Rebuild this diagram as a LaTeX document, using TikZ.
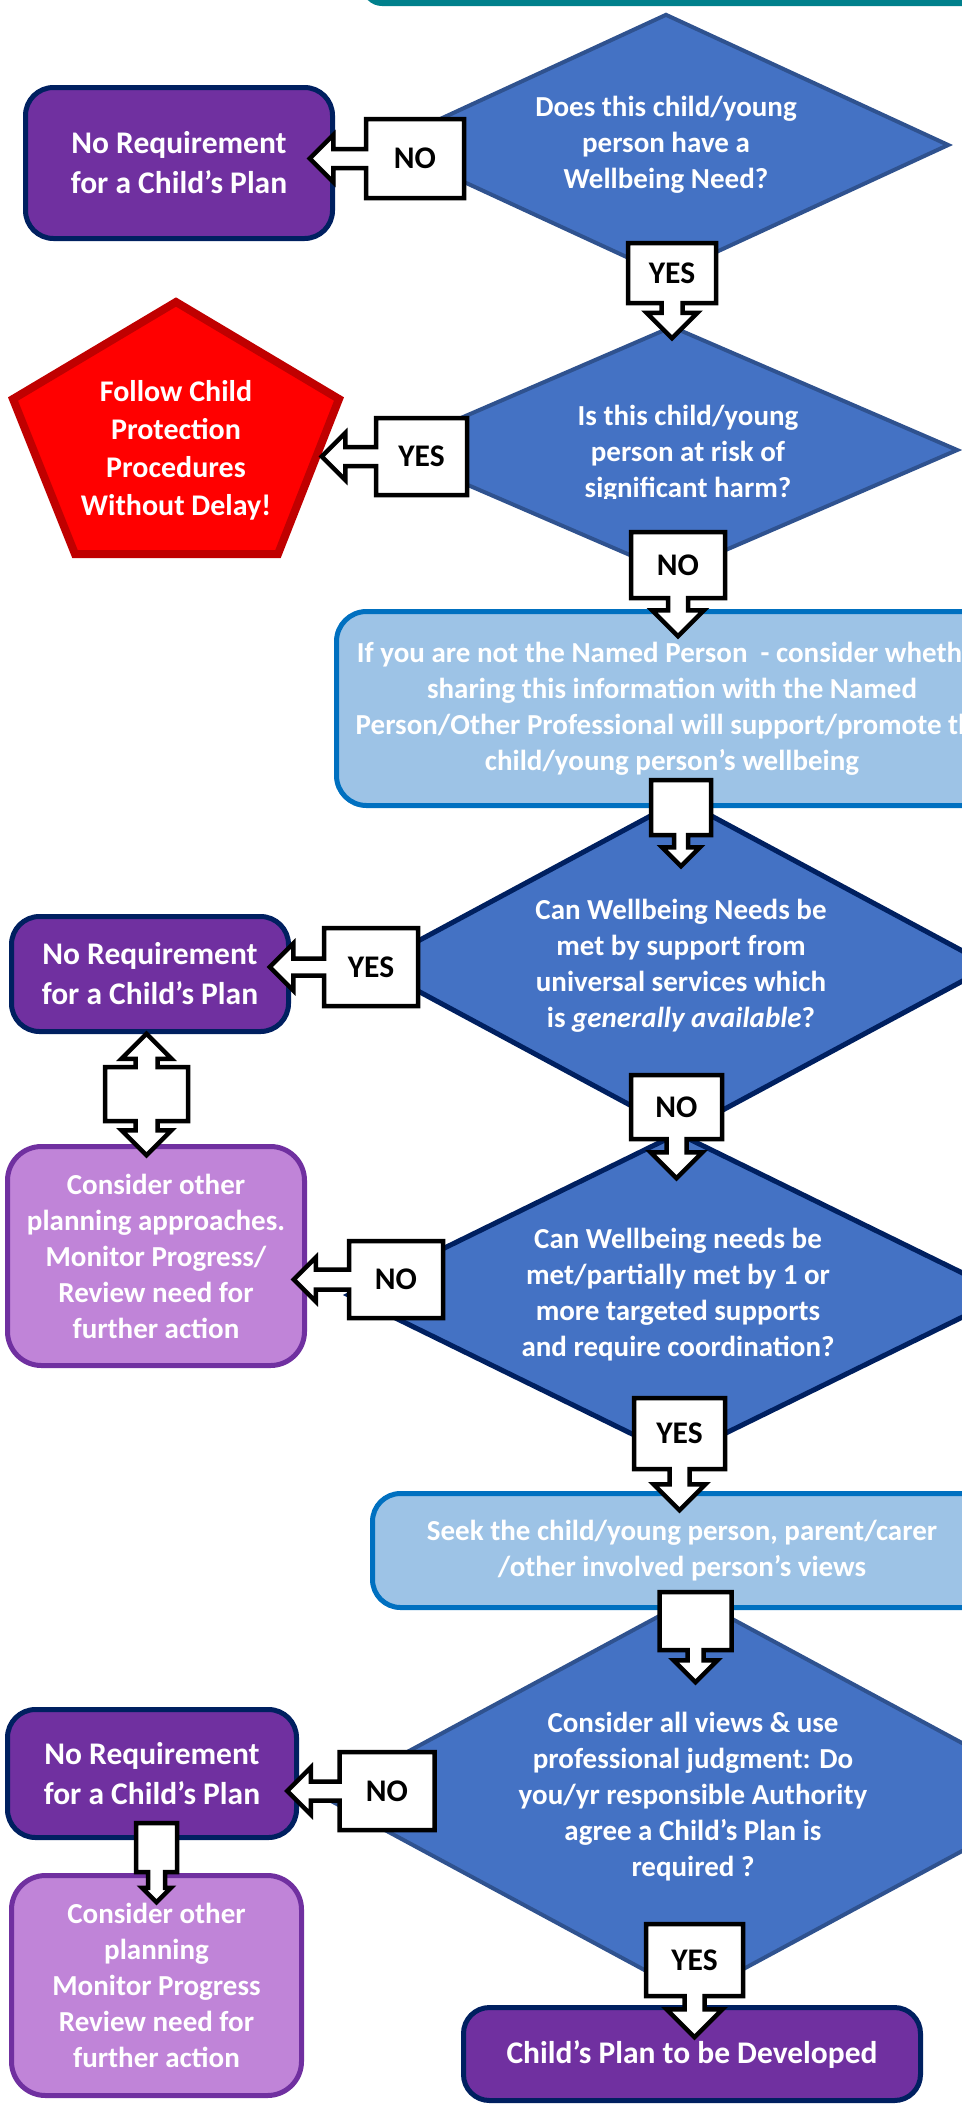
\documentclass[tikz,border=0pt]{standalone}
\usepackage{fontspec}
\setmainfont{Carlito}
\usetikzlibrary{shapes.geometric,shapes.arrows}

\definecolor{qblue}{RGB}{68,114,196}
\definecolor{qedge}{RGB}{47,82,143}
\definecolor{navy}{RGB}{0,32,96}
\definecolor{plum}{RGB}{112,48,160}
\definecolor{lilac}{RGB}{192,132,216}
\definecolor{sky}{RGB}{157,195,230}
\definecolor{skyedge}{RGB}{0,112,192}
\definecolor{stopred}{RGB}{255,0,0}
\definecolor{stopedge}{RGB}{192,0,0}
\definecolor{tealbar}{RGB}{0,128,140}

\tikzset{
  qtext/.style={text=white, align=center, font=\fontsize{14.5}{18}\selectfont\bfseries},
  question/.style={diamond, qtext, fill=qblue, draw=qedge, line width=2pt, inner sep=0pt},
  darkq/.style={question, draw=navy, line width=2.5pt},
  noplan/.style={rectangle, rounded corners=14pt, fill=plum, draw=navy, line width=2.5pt,
    text=white, align=center, font=\fontsize{15.75}{20}\selectfont\bfseries},
  lilacbox/.style={rectangle, rounded corners=17pt, fill=lilac, draw=plum, line width=2.5pt, qtext},
  skybox/.style={rectangle, rounded corners=15pt, fill=sky, draw=skyedge, line width=2.5pt, qtext},
  answer/.style={arrow box, fill=white, draw=black, line width=2.25pt, inner sep=0pt,
    arrow box tip angle=90, font=\fontsize{15.75}{18}\selectfont\bfseries},
}

\begin{document}
\begin{tikzpicture}[x=0.5pt, y=-0.5pt]
  \useasboundingbox (0,0) rectangle (962,2105);
  \clip (0,0) rectangle (962,2105);
  % bordo del riquadro sopra
  \fill[tealbar, rounded corners=10pt] (362,-60) rectangle (1020,6);

  % domande
  \node[question, aspect=2.16, minimum width=283pt, minimum height=131pt] (need) at (666,145)
    {Does this child/young\\person have a\\Wellbeing Need?};
  \node[question, aspect=2.3, minimum width=286pt, minimum height=124pt] (risk) at (672,450) {};
  \begin{scope}
    \clip (380,330) rectangle (962,498);
    \node[qtext] (risktext) at (688,454) {Is this child/young\\person at risk of\\significant harm?};
  \end{scope}
  \node[darkq, aspect=1.85, minimum width=310.5pt, minimum height=167.5pt] (universal) at (681,966)
    {Can Wellbeing Needs be\\met by support from\\universal services which\\is \textit{generally available}?};
  \node[darkq, aspect=2.03, minimum width=330.5pt, minimum height=162.5pt] (targeted) at (678,1295)
    {Can Wellbeing needs be\\met/partially met by 1 or\\more targeted supports\\and require coordination?};
  \node[question, aspect=1.85, minimum width=370pt, minimum height=200pt] (judge) at (693,1797)
    {Consider all views \& use\\professional judgment: Do\\you/yr responsible Authority\\agree a Child’s Plan is\\required ?};

  % esiti
  \filldraw[fill=stopred, draw=stopedge, line width=4pt, line join=miter]
    (176,302) -- (339,399) -- (278,554) -- (75,554) -- (13,399) -- cycle;
  \node[text=white, align=center, font=\fontsize{15}{19}\selectfont\bfseries] (protect) at (176,450)
    {Follow Child\\Protection\\Procedures\\Without Delay!};
  \node[noplan, minimum width=153.5pt, minimum height=75.5pt] (noplanA) at (179,163) {No Requirement\\for a Child’s Plan};
  \node[noplan, minimum width=138.5pt, minimum height=57.5pt] (noplanB) at (150,974) {No Requirement\\for a Child’s Plan};
  \node[noplan, minimum width=144.5pt, minimum height=64pt] (noplanC) at (152,1773.5) {No Requirement\\for a Child’s Plan};
  \node[lilacbox, minimum width=148.5pt, minimum height=109.5pt] (otherA) at (156,1256)
    {Consider other\\planning approaches.\\Monitor Progress/\\Review need for\\further action};
  \node[lilacbox, minimum width=145pt, minimum height=110pt] (otherB) at (156.5,1985.5)
    {Consider other\\planning\\Monitor Progress\\Review need for\\further action};
  \node[skybox, minimum width=335.5pt, minimum height=97pt] (share) at (672,708.5)
    {If you are not the Named Person~ - consider whether\\sharing this information with the Named\\Person/Other Professional will support/promote the\\child/young person’s wellbeing};
  \node[skybox, rounded corners=14pt, minimum width=309.5pt, minimum height=57pt] (views) at (682,1550.5)
    {Seek the child/young person, parent/carer\\/other involved person’s views};
  \node[noplan, rounded corners=13pt, minimum width=228.5pt, minimum height=46.5pt] (develop) at (692,2054)
    {Child’s Plan to be Developed};

  % frecce
  \node[answer, minimum width=49pt, minimum height=39.5pt, arrow box arrows={west:27pt},
    arrow box shaft width=9.5pt, arrow box head extend=7pt] (noA) at (415,158.5) {NO};
  \node[answer, minimum width=44pt, minimum height=30pt, arrow box arrows={south:16.5pt},
    arrow box shaft width=10.5pt, arrow box head extend=7.5pt] (yesA) at (672,273) {YES};
  \node[answer, minimum width=45.5pt, minimum height=38.5pt, arrow box arrows={west:26pt},
    arrow box shaft width=9.5pt, arrow box head extend=7pt] (yesB) at (421.5,456.5) {YES};
  \node[answer, minimum width=47pt, minimum height=33pt, arrow box arrows={south:18pt},
    arrow box shaft width=10pt, arrow box head extend=8pt] (noB) at (678,565) {NO};
  \node[answer, minimum width=30pt, minimum height=27.5pt, arrow box arrows={south:14.5pt},
    arrow box shaft width=7pt, arrow box head extend=6pt] (toU) at (681,807.5) {};
  \node[answer, minimum width=47pt, minimum height=39pt, arrow box arrows={west:26pt},
    arrow box shaft width=8.5pt, arrow box head extend=7.5pt] (yesC) at (371,967) {YES};
  \node[answer, minimum width=41.5pt, minimum height=27pt, arrow box arrows={north:15.5pt, south:16pt},
    arrow box shaft width=11pt, arrow box head extend=7pt] (both) at (146.5,1094) {};
  \node[answer, minimum width=45.5pt, minimum height=32pt, arrow box arrows={south:18.5pt},
    arrow box shaft width=10pt, arrow box head extend=8pt] (noC) at (676.5,1107) {NO};
  \node[answer, minimum width=47pt, minimum height=38.5pt, arrow box arrows={west:26.5pt},
    arrow box shaft width=10pt, arrow box head extend=6pt] (noD) at (396,1279.5) {NO};
  \node[answer, minimum width=45.5pt, minimum height=35.5pt, arrow box arrows={south:19.5pt},
    arrow box shaft width=10pt, arrow box head extend=8pt] (yesD) at (679.5,1433.5) {YES};
  \node[answer, minimum width=36pt, minimum height=29pt, arrow box arrows={south:15pt},
    arrow box shaft width=8pt, arrow box head extend=7pt] (toJ) at (695.5,1621) {};
  \node[answer, minimum width=47.5pt, minimum height=39pt, arrow box arrows={west:25pt},
    arrow box shaft width=9.5pt, arrow box head extend=7pt] (noE) at (387,1791) {NO};
  \node[answer, minimum width=20.5pt, minimum height=24.5pt, arrow box arrows={south:14pt},
    arrow box shaft width=8.5pt, arrow box head extend=3pt] (toO) at (156.5,1847.5) {};
  \node[answer, minimum width=48.5pt, minimum height=36pt, arrow box arrows={south:19.5pt},
    arrow box shaft width=10pt, arrow box head extend=9pt] (yesE) at (694.5,1960) {YES};
\end{tikzpicture}
\end{document}
